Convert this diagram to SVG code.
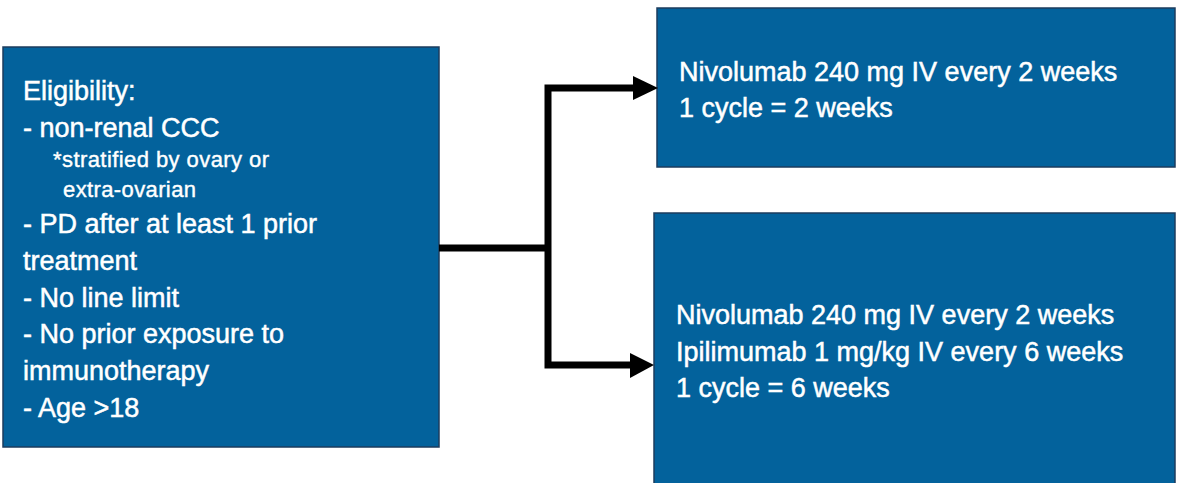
<svg xmlns="http://www.w3.org/2000/svg" width="1178" height="483" viewBox="0 0 1178 483">
<style>
.box{fill:#03629c;stroke:#1d3d5e;stroke-width:1.5}
.t{font-family:"Liberation Sans",Arial,sans-serif;fill:#ffffff;stroke:#ffffff;stroke-width:0.5;font-size:27px}
.s{font-family:"Liberation Sans",Arial,sans-serif;fill:#ffffff;stroke:#ffffff;stroke-width:0.4;font-size:22px}
.ln{fill:none;stroke:#000;stroke-width:7}
</style>
<rect width="1178" height="483" fill="#ffffff"/>
<g id="eligibility">
<rect class="box" x="3" y="47" width="436" height="400"/>
<text class="t" x="23" y="100">Eligibility:</text>
<text class="t" x="23" y="137">- non-renal CCC</text>
<text class="s" x="53" y="167" textLength="216">*stratified by ovary or</text>
<text class="s" x="63" y="197" textLength="133">extra-ovarian</text>
<text class="t" x="23" y="233">- PD after at least 1 prior</text>
<text class="t" x="23" y="270">treatment</text>
<text class="t" x="23" y="307">- No line limit</text>
<text class="t" x="23" y="343">- No prior exposure to</text>
<text class="t" x="23" y="380">immunotherapy</text>
<text class="t" x="23" y="417">- Age &gt;18</text>
</g>
<g id="arm1">
<rect class="box" x="657" y="8" width="518" height="159"/>
<text class="t" x="679" y="81">Nivolumab 240 mg IV every 2 weeks</text>
<text class="t" x="679" y="117">1 cycle = 2 weeks</text>
</g>
<g id="arm2">
<rect class="box" x="654" y="213" width="521" height="280"/>
<text class="t" x="676" y="324">Nivolumab 240 mg IV every 2 weeks</text>
<text class="t" x="676" y="361">Ipilimumab 1 mg/kg IV every 6 weeks</text>
<text class="t" x="676" y="397">1 cycle = 6 weeks</text>
</g>
<g id="connectors">
<polyline class="ln" points="439,248 548,248"/>
<polyline class="ln" points="634,88 548,88 548,365 631,365"/>
<polygon points="633,76 658,88 633,100" fill="#000"/>
<polygon points="630,353 654,365 630,378" fill="#000"/>
</g>
</svg>
